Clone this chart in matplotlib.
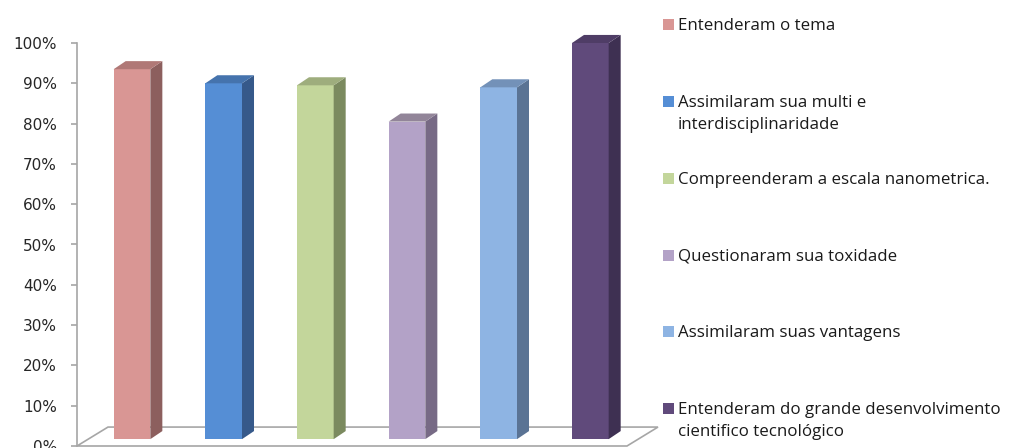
import matplotlib
matplotlib.use("Agg")
import matplotlib.pyplot as plt
from matplotlib.patches import Polygon, Rectangle

labels = ["Entenderam o tema",
          "Assimilaram sua multi e\ninterdisciplinaridade",
          "Compreenderam a escala nanometrica.",
          "Questionaram sua toxidade",
          "Assimilaram suas vantagens",
          "Entenderam do grande desenvolvimento\ncientifico tecnológico"]
values = [0.935, 0.90, 0.895, 0.805, 0.89, 1.0]
front_colors = ["#D99694", "#558ED5", "#C3D69B", "#B3A2C7", "#8EB4E3", "#604A7B"]
side_colors = ["#8C5F5E", "#36598A", "#7B8A5F", "#776A85", "#5A7394", "#3E3052"]
top_colors = ["#B07876", "#4573AD", "#9EAD7D", "#928599", "#7391B8", "#4F3D66"]

W, H = 1013, 448
fig = plt.figure(figsize=(W / 100, H / 100), dpi=100)
ax = fig.add_axes([77 / W, 2 / H, 550 / W, 403 / H])
ax.set_xlim(-0.6, 5.4)
ax.set_ylim(0, 1)

grey = "#A6A6A6"
bw = 0.40        # bar width
base = 0.017     # bars sit a little above the floor front edge
ddx, ddy = 0.131, 0.02   # bar depth offset

# floor
floor = Polygon([(-0.6, 0.0), (5.4, 0.0), (5.4 + 0.338, 0.047), (-0.6 + 0.338, 0.047)],
                closed=True, facecolor="white", edgecolor=grey, lw=1.2, clip_on=False, zorder=1)
ax.add_patch(floor)

for i, v in enumerate(values):
    l, r = i - bw / 2, i + bw / 2
    ax.bar(i, v - base, bottom=base, width=bw, color=front_colors[i], zorder=3)
    side = Polygon([(r, base), (r + ddx, base + ddy), (r + ddx, v + ddy), (r, v)],
                   closed=True, facecolor=side_colors[i], edgecolor="none", zorder=3, clip_on=False)
    top = Polygon([(l, v), (l + ddx, v + ddy), (r + ddx, v + ddy), (r, v)],
                  closed=True, facecolor=top_colors[i], edgecolor="none", zorder=3, clip_on=False)
    ax.add_patch(side)
    ax.add_patch(top)

for s in ["top", "right", "bottom"]:
    ax.spines[s].set_visible(False)
ax.spines["left"].set_color(grey)
ax.spines["left"].set_linewidth(1.2)
ax.set_xticks([])
ax.set_yticks([i / 10 for i in range(11)])
ax.set_yticklabels([f"{i * 10}%" for i in range(11)])
ax.tick_params(axis="y", colors=grey, length=4.5, width=1.2, pad=10, labelsize=11,
               labelcolor="#262626")

# legend drawn by hand so that two-line entries keep the square on the first line
for i, lab in enumerate(labels):
    yc = 25 + i * 76.7
    fig.patches.append(Rectangle((663 / W, 1 - (yc + 5.5) / H), 11 / W, 11 / H,
                                 transform=fig.transFigure, facecolor=front_colors[i],
                                 edgecolor="none"))
    for k, line in enumerate(lab.split("\n")):
        fig.text(678 / W, 1 - (yc + 5.5 + 22 * k) / H, line, va="baseline", ha="left",
                 fontsize=12.2, family="Open Sans", color="#1A1A1A")

fig.savefig("out.png", dpi=100)
